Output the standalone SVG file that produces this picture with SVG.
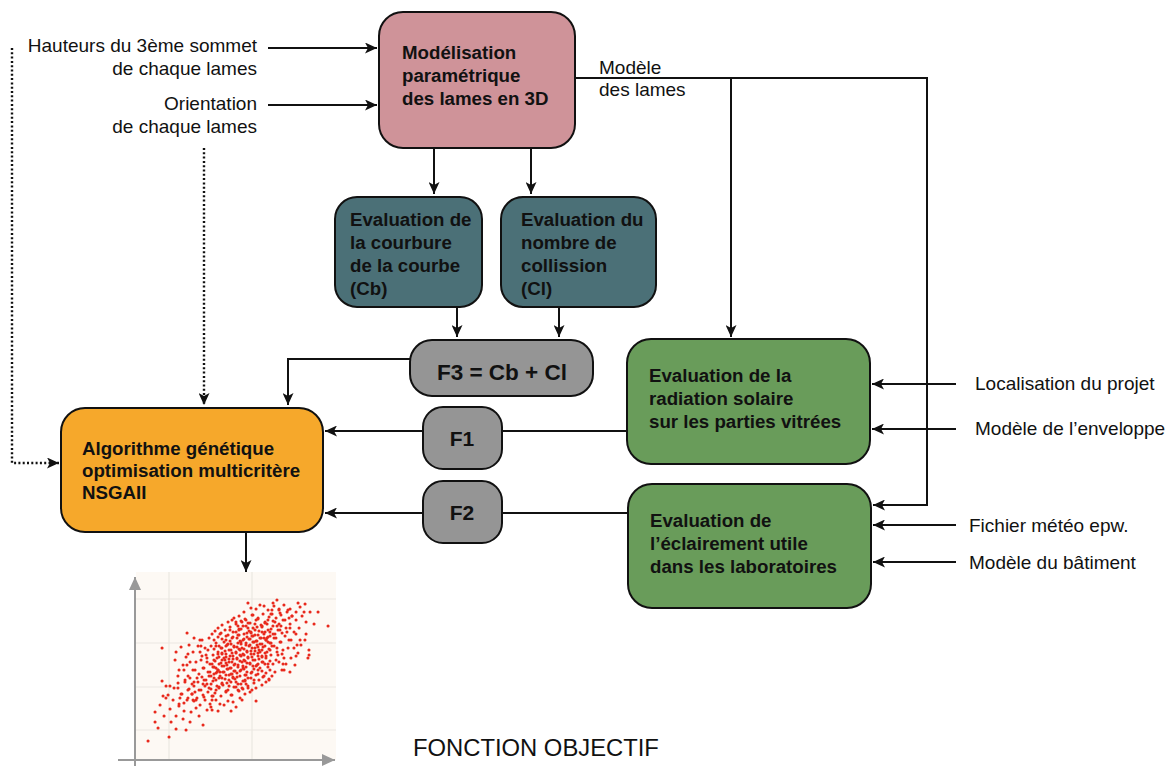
<svg xmlns="http://www.w3.org/2000/svg" xmlns:xlink="http://www.w3.org/1999/xlink" width="1171" height="767" viewBox="0 0 1171 767">
<style>
.box{stroke:#111;stroke-width:2}
.bt{font-family:"Liberation Sans",Arial,sans-serif;font-weight:bold;font-size:18.7px;fill:#111}
.lt{font-family:"Liberation Sans",Arial,sans-serif;font-size:19px;fill:#111}
.ln{fill:none;stroke:#111;stroke-width:2}
.dot{fill:none;stroke:#111;stroke-width:2.4;stroke-dasharray:2 2.3}
.pts{fill:none;stroke:#e8291c;stroke-width:3;stroke-linecap:round}
</style>
<defs>
<marker id="ah" markerUnits="userSpaceOnUse" markerWidth="13" markerHeight="11" refX="12" refY="5.5" orient="auto"><path d="M0,0 L12,5.5 L0,11 L3,5.5 z" fill="#111"/></marker>
<marker id="ag" markerUnits="userSpaceOnUse" markerWidth="14" markerHeight="12" refX="13" refY="6" orient="auto"><path d="M0,0 L13,6 L0,12 z" fill="#999"/></marker>
</defs>
<rect width="1171" height="767" fill="#fff"/>

<g id="connectors">
<path class="ln" d="M268,48 H377" marker-end="url(#ah)"/>
<path class="ln" d="M268,105 H377" marker-end="url(#ah)"/>
<path class="dot" d="M12,48 V463 H59" marker-end="url(#ah)"/>
<path class="dot" d="M204,148 V405" marker-end="url(#ah)"/>
<path class="ln" d="M434,148 V194" marker-end="url(#ah)"/>
<path class="ln" d="M531,148 V194" marker-end="url(#ah)"/>
<path class="ln" d="M457,308 V337" marker-end="url(#ah)"/>
<path class="ln" d="M559,308 V337" marker-end="url(#ah)"/>
<path class="ln" d="M410,359 H288 V405" marker-end="url(#ah)"/>
<path class="ln" d="M575,78 H927 V505 H873" marker-end="url(#ah)"/>
<path class="ln" d="M731,78 V337" marker-end="url(#ah)"/>
<path class="ln" d="M627,431 H502"/>
<path class="ln" d="M423,431 H325" marker-end="url(#ah)"/>
<path class="ln" d="M628,513 H502"/>
<path class="ln" d="M423,513 H325" marker-end="url(#ah)"/>
<path class="ln" d="M956,384 H872" marker-end="url(#ah)"/>
<path class="ln" d="M956,429 H872" marker-end="url(#ah)"/>
<path class="ln" d="M956,525 H873" marker-end="url(#ah)"/>
<path class="ln" d="M956,562 H873" marker-end="url(#ah)"/>
<path class="ln" d="M246,532 V572" marker-end="url(#ah)"/>
</g>

<g id="inputs-left">
<text class="lt" x="257" y="52" text-anchor="end">Hauteurs du 3ème sommet</text>
<text class="lt" x="257" y="75" text-anchor="end">de chaque lames</text>
<text class="lt" x="257" y="110" text-anchor="end">Orientation</text>
<text class="lt" x="257" y="133" text-anchor="end">de chaque lames</text>
</g>

<g id="n-modelisation">
<rect class="box" x="379" y="12" width="196" height="136" rx="24" fill="#cf9399"/>
<text class="bt" x="402" y="59">Modélisation</text>
<text class="bt" x="402" y="82">paramétrique</text>
<text class="bt" x="402" y="105">des lames en 3D</text>
</g>

<g id="label-modele">
<text class="lt" x="599" y="74">Modèle</text>
<text class="lt" x="599" y="96">des lames</text>
</g>

<g id="n-courbure">
<rect class="box" x="335" y="197" width="147" height="110" rx="22" fill="#4b7077"/>
<text class="bt" x="350" y="226">Evaluation de</text>
<text class="bt" x="350" y="249">la courbure</text>
<text class="bt" x="350" y="272">de la courbe</text>
<text class="bt" x="350" y="295">(Cb)</text>
</g>

<g id="n-collision">
<rect class="box" x="501" y="197" width="155" height="110" rx="22" fill="#4b7077"/>
<text class="bt" x="521" y="226">Evaluation du</text>
<text class="bt" x="521" y="249">nombre de</text>
<text class="bt" x="521" y="272">collission</text>
<text class="bt" x="521" y="295">(Cl)</text>
</g>

<g id="n-f3">
<rect class="box" x="410" y="340" width="183" height="56" rx="22" fill="#959595"/>
<text class="bt" x="502" y="380" text-anchor="middle" style="font-size:22.5px">F3 = Cb + Cl</text>
</g>

<g id="n-algo">
<rect class="box" x="61" y="408" width="262" height="124" rx="24" fill="#f6a82b"/>
<text class="bt" x="82" y="455">Algorithme génétique</text>
<text class="bt" x="82" y="477">optimisation multicritère</text>
<text class="bt" x="82" y="499">NSGAII</text>
</g>

<g id="n-f1">
<rect class="box" x="423" y="407" width="79" height="62" rx="20" fill="#959595"/>
<text class="bt" x="462" y="446" text-anchor="middle" style="font-size:21px">F1</text>
</g>

<g id="n-f2">
<rect class="box" x="423" y="481" width="79" height="62" rx="20" fill="#959595"/>
<text class="bt" x="462" y="520" text-anchor="middle" style="font-size:21px">F2</text>
</g>

<g id="n-radiation">
<rect class="box" x="627" y="339" width="243" height="125" rx="24" fill="#699c5a"/>
<text class="bt" x="649" y="382">Evaluation de la</text>
<text class="bt" x="649" y="405">radiation solaire</text>
<text class="bt" x="649" y="428">sur les parties vitrées</text>
</g>

<g id="n-eclairement">
<rect class="box" x="628" y="484" width="243" height="124" rx="24" fill="#699c5a"/>
<text class="bt" x="650" y="527">Evaluation de</text>
<text class="bt" x="650" y="550">l’éclairement utile</text>
<text class="bt" x="650" y="573">dans les laboratoires</text>
</g>

<g id="inputs-right">
<text class="lt" x="975" y="390">Localisation du projet</text>
<text class="lt" x="975" y="435">Modèle de l’enveloppe</text>
<text class="lt" x="969" y="532">Fichier météo epw.</text>
<text class="lt" x="969" y="569">Modèle du bâtiment</text>
</g>

<g id="scatter-plot">
<rect x="136" y="572" width="200" height="188" fill="#fdf9f4"/>
<path d="M169,572 V760 M252,572 V760 M136,599 H336 M136,643 H336 M136,687 H336 M136,730 H336" stroke="#ece8e2" stroke-width="1.2" fill="none"/>
<path d="M135,766 V577" stroke="#999" stroke-width="2" fill="none" marker-end="url(#ag)"/>
<path d="M118,760 H335" stroke="#999" stroke-width="2" fill="none" marker-end="url(#ag)"/>
<path class="pts" d="
M148,741h.1M169,737h.1M186,730h.1M203,725h.1M155,722h.1M155,712h.1M162,681h.1M162,648h.1M181,647h.1M187,633h.1M328,626h.1M309,655h.1M298,603h.1M279,609h.1M310,612h.1M269,680h.1M256,701h.1M242,700h.1M231,711h.1M218,711h.1M212,710h.1
M160,705h.1M164,716h.1M170,709h.1M173,700h.1M176,716h.1M179,704h.1M181,694h.1M184,711h.1M187,700h.1M189,689h.1M168,695h.1M174,688h.1M163,696h.1M178,683h.1M183,719h.1M191,712h.1M193,700h.1M171,722h.1M158,728h.1M190,722h.1M196,708h.1M185,680h.1M192,684h.1M166,686h.1M199,716h.1M176,729h.1"/>
<path id="core" class="pts" d="
M175,660h.1M179,670h.1M183,665h.1M186,657h.1M190,662h.1M193,652h.1M195,670h.1M197,678h.1M199,690h.1M201,660h.1M203,668h.1M204,680h.1M206,655h.1M208,672h.1M209,688h.1M211,646h.1M212,664h.1M213,696h.1M214,678h.1M188,676h.1M192,694h.1M196,700h.1M200,705h.1M205,700h.1M207,710h.1M210,704h.1M198,646h.1M202,640h.1M205,648h.1M209,638h.1M213,655h.1M176,652h.1M189,645h.1M194,638h.1M200,652h.1M216,690h.1M217,672h.1M211,684h.1M194,682h.1M203,695h.1M207,662h.1M209,676h.1M203,684h.1
M252,615h.1M263,614h.1M239,616h.1M245,619h.1M258,618h.1M269,617h.1M232,620h.1M228,622h.1M241,621h.1M250,623h.1M256,620h.1M265,622h.1M273,621h.1M222,625h.1M236,624h.1M243,626h.1M248,623h.1M261,625h.1M267,624h.1M277,626h.1
M218,628h.1M230,627h.1M239,629h.1M246,626h.1M253,628h.1M257,627h.1M271,629h.1M215,631h.1M225,630h.1M233,632h.1M241,629h.1M249,631h.1M255,630h.1M262,632h.1M268,630h.1M212,634h.1M221,633h.1M228,635h.1M236,632h.1M244,634h.1M251,633h.1M258,635h.1M265,632h.1M273,634h.1
M218,637h.1M226,636h.1M232,638h.1M239,635h.1M247,637h.1M253,636h.1M261,638h.1M270,636h.1M214,640h.1M222,639h.1M230,641h.1M237,638h.1M243,640h.1M250,639h.1M256,641h.1M264,638h.1M216,643h.1M224,642h.1M231,644h.1M240,641h.1M246,643h.1M254,642h.1M260,644h.1M268,642h.1
M219,646h.1M227,645h.1M234,647h.1M241,644h.1M249,646h.1M257,645h.1M263,647h.1M214,649h.1M221,648h.1M229,650h.1M237,647h.1M244,649h.1M252,648h.1M259,650h.1M218,652h.1M225,651h.1M232,653h.1M240,650h.1M247,652h.1M255,651h.1M265,653h.1
M213,655h.1M222,654h.1M230,656h.1M236,653h.1M244,655h.1M251,654h.1M258,656h.1M217,658h.1M226,657h.1M233,659h.1M241,656h.1M248,658h.1M262,657h.1M215,661h.1M222,660h.1M229,662h.1M237,659h.1M245,661h.1M253,660h.1
M219,664h.1M226,663h.1M234,665h.1M242,662h.1M250,664h.1M214,667h.1M222,666h.1M231,668h.1M238,665h.1M246,667h.1M256,666h.1M218,670h.1M227,669h.1M235,671h.1M243,668h.1M216,673h.1M224,672h.1M232,674h.1M240,671h.1M251,673h.1
M220,676h.1M229,675h.1M237,677h.1M225,679h.1M233,678h.1M245,680h.1M222,683h.1M236,682h.1M219,687h.1M229,686h.1M242,688h.1M226,691h.1M238,690h.1M231,695h.1M246,684h.1M250,692h.1M240,698h.1M212,700h.1M233,702h.1M224,705h.1M236,707h.1
M300,607h.1M287,612h.1M292,616h.1M280,613h.1M276,618h.1M283,620h.1M290,624h.1M296,620h.1M302,616h.1M306,622h.1M299,628h.1M294,632h.1M286,628h.1M278,630h.1M272,614h.1M268,610h.1M264,606h.1M256,609h.1M285,636h.1M291,640h.1M280,642h.1M274,646h.1M270,650h.1M266,656h.1M276,660h.1M282,654h.1M288,648h.1M300,640h.1M306,634h.1M314,624h.1M297,645h.1M262,662h.1M268,664h.1M258,670h.1M264,676h.1M254,680h.1M248,688h.1M284,670h.1M296,656h.1M304,612h.1M273,603h.1M305,604h.1M318,612h.1M262,626h.1M274,638h.1M283,664h.1M290,609h.1M279,624h.1M271,643h.1M260,652h.1M266,640h.1M282,633h.1M289,618h.1M296,612h.1M253,660h.1M258,664h.1M246,675h.1M277,652h.1"/>
<use xlink:href="#core" transform="rotate(180 242 655)"/>
</g>

<text class="lt" x="413" y="756" style="font-size:23.8px">FONCTION OBJECTIF</text>
</svg>
